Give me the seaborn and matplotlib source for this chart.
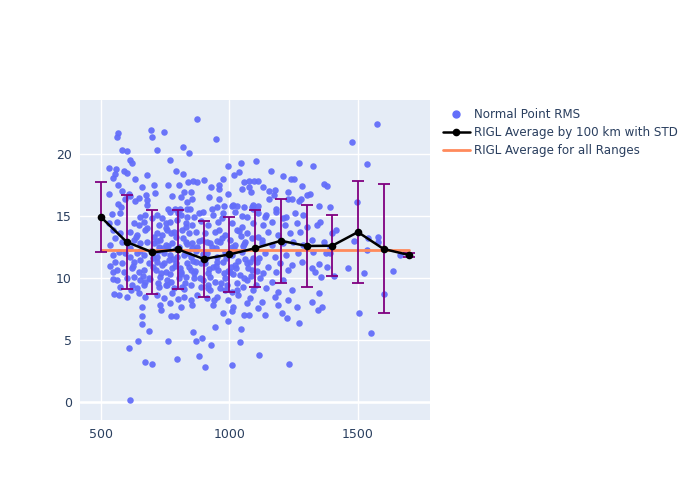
import matplotlib
matplotlib.use("Agg")
import matplotlib.pyplot as plt
import seaborn as sns
import pandas as pd
from matplotlib.lines import Line2D

# ---------------- data ----------------
scatter_x = [
    # sparse / outliers
    613, 610, 643, 658, 660, 687, 670, 700, 759, 797, 771, 792, 859, 870, 881, 732,
    942, 892, 927, 903, 1011, 995, 1045, 1042, 1115, 1233, 1269, 1224, 1204, 1139, 1058, 1075, 1011, 976,
    1344, 1504, 1551,
    1352, 1342, 1414, 1398, 1320, 1368, 1391, 1326, 1375, 1391, 1484, 1540, 1579, 1579, 1534, 1663,
    1349, 1320, 1333, 1378, 1462, 1523, 1635, 1407, 1355, 1348, 1601, 1320, 1359,
    1575, 1479, 1534, 1325, 1368, 1378, 1313, 1497, 1348, 1391,
    873, 947, 995, 1045, 1104, 1161, 1269, 1019, 1037, 902, 975, 1207, 1238, 1252, 928, 959, 958,
    1056, 1077, 1095, 1111, 1047, 1077, 1085, 1131, 1154, 1177, 1226, 1282, 921, 959, 993, 1155, 1172,
    1229, 1244, 1270, 1280, 1301, 950, 980, 1015, 1028, 1058, 1090, 1112, 1086,
    565, 561, 695, 697, 745, 580, 602, 719, 819, 842, 614, 619, 767, 531, 558, 554, 548, 589, 600,
    679, 792, 820, 633, 859, 875, 565, 658, 705, 761, 802, 837, 580, 530, 610, 675, 709, 777, 810,
    824, 851, 649, 678, 678, 633, 593, 613, 565, 577, 855, 833, 807, 788, 833,
    # dense core (left)
    542, 575, 653, 672, 718, 738, 770, 810, 836, 862, 881,
    529, 561, 627, 646, 666, 725, 751, 770, 797, 829, 855,
    548, 575, 614, 640, 672, 718, 738, 757, 784, 816, 842, 868,
    535, 555, 581, 627, 653, 679, 705, 731, 751, 777, 829, 855, 875,
    548, 568, 594, 614, 640, 666, 718, 744, 770, 797, 823, 849,
    555, 581, 627, 653, 686, 718, 738, 764, 790, 836, 868,
    561, 588, 620, 646, 666, 712, 751, 777, 810, 849,
    561, 601, 627, 653, 686, 731, 757, 803, 829, 862,
    575, 620, 640, 666, 725, 751, 784, 816, 849,
    568, 601, 646, 672, 718, 744, 777, 823, 875,
    659, 731, 770, 810, 855,
    # dense core (middle)
    898, 937, 976, 1021, 1067, 1112, 1144, 1183, 1222, 1255, 1287,
    917, 956, 1008, 1047, 1093, 1131, 1164, 1216, 1261, 1300,
    904, 943, 982, 1028, 1067, 1112, 1151, 1190, 1235, 1274,
    924, 963, 1021, 1060, 1125, 1164, 1209, 1248, 1287,
    911, 950, 1008, 1047, 1093, 1138, 1177, 1222, 1268,
    904, 937, 976, 1021, 1067, 1106, 1151, 1196, 1242, 1281,
    917, 956, 1002, 1041, 1086, 1131, 1183, 1229,
    898, 943, 982, 1028, 1067, 1118, 1164, 1209,
    924, 963, 1008, 1054, 1093, 1144, 1190, 1242,
    911, 950, 995, 1034, 1080, 1125, 1177, 1229,
    937, 1015, 1067, 1112, 1190, 1261,
    # extra fill
    612, 637, 662, 693, 708, 742, 767, 792, 818, 843, 871, 893, 921, 947, 972, 993, 1018, 1044, 1071, 1098, 1128,
    625, 650, 680, 702, 727, 752, 780, 805, 830, 858, 880, 908, 932, 958, 985, 1010, 1036, 1062, 1088, 1115,
    618, 672, 722, 772, 798, 827, 852, 888, 915, 940, 968, 990, 1030, 1058, 1102,
    700, 760, 800, 846, 890, 930, 970, 1010, 1050, 1090, 1140, 1180, 1210,
    535, 548, 552, 545,
    704, 733, 761, 786, 812, 838, 866, 897, 926, 953, 981, 1004, 1033, 1057, 1083,
    716, 746, 774, 808, 834, 862, 889, 914, 946, 978, 1003, 1026, 1052, 1079, 1107,
    690, 722, 756, 790, 822, 854, 884, 918, 950, 982, 1012,
]
scatter_y = [
    0.16, 4.35, 4.95, 6.9, 6.3, 5.7, 3.2, 3.1, 4.95, 3.5, 6.9, 6.9, 5.65, 4.95, 3.7, 7.4,
    6.05, 5.2, 4.6, 2.8, 3.0, 6.5, 5.9, 4.85, 3.8, 3.1, 6.4, 6.8, 7.2, 7.05, 7.0, 7.0, 7.3, 7.2,
    7.4, 7.2, 5.6,
    14.5, 14.3, 13.9, 13.6, 13.1, 12.9, 12.4, 12.1, 12.0, 12.0, 13.0, 13.2, 13.3, 12.9, 12.25, 11.85,
    11.1, 10.8, 10.5, 10.85, 10.8, 10.4, 10.6, 10.2, 10.1, 8.8, 8.7, 8.1, 7.7,
    22.4, 21.0, 19.2, 19.0, 17.6, 17.4, 16.75, 16.1, 15.8, 15.75,
    22.8, 21.2, 19.0, 19.3, 19.4, 18.65, 19.25, 18.3, 18.55, 17.9, 18.0, 18.2, 18.0, 18.0, 17.3, 17.5, 17.2,
    17.7, 17.8, 17.85, 17.8, 17.2, 17.35, 16.95, 17.3, 17.0, 17.1, 16.95, 17.45, 16.55, 16.4, 16.8, 16.35, 16.7,
    16.4, 16.4, 16.2, 16.4, 16.7, 15.7, 15.8, 15.9, 15.8, 15.75, 15.9, 15.8, 15.7,
    21.7, 21.35, 21.9, 21.35, 21.8, 20.3, 20.2, 20.3, 20.6, 20.1, 19.5, 19.3, 19.5, 18.9, 18.8, 18.35, 18.1, 18.6, 18.5,
    18.3, 18.6, 18.4, 18.0, 17.85, 17.7, 17.5, 17.3, 17.5, 17.5, 17.5, 17.7, 17.05, 16.8, 16.75, 16.7, 16.85, 16.65, 16.5,
    16.95, 16.95, 16.45, 16.3, 15.9, 16.2, 16.35, 16.65, 15.95, 15.75, 16.35, 16.15, 15.6, 15.6, 15.6,
    15.16, 15.21, 14.94, 15.08, 15.08, 14.81, 15.35, 15.08, 14.94, 14.94, 15.21,
    14.4, 14.54, 14.4, 14.27, 14.54, 14.27, 14.4, 14.54, 14.67, 14.4, 14.27,
    13.87, 13.6, 13.73, 13.46, 13.87, 13.6, 13.46, 13.87, 13.73, 13.87, 13.6, 13.73,
    12.66, 13.19, 12.92, 13.06, 12.79, 12.92, 12.79, 13.06, 12.66, 12.79, 12.92, 12.79, 12.52,
    11.85, 12.12, 11.98, 11.71, 11.98, 11.85, 11.71, 11.98, 11.85, 11.71, 11.85, 11.71,
    11.31, 11.18, 11.31, 11.45, 11.18, 11.31, 11.04, 11.45, 11.18, 11.18, 11.31,
    10.64, 10.5, 10.77, 10.5, 10.64, 10.64, 10.5, 10.77, 10.5, 10.64,
    9.83, 9.97, 10.1, 9.83, 9.97, 10.1, 9.83, 9.97, 10.1, 9.97,
    9.29, 9.43, 9.16, 9.43, 9.29, 9.43, 9.16, 9.29, 9.43,
    8.62, 8.49, 8.76, 8.49, 8.62, 8.35, 8.76, 8.49, 8.62,
    7.68, 7.81, 7.95, 7.68, 7.81,
    15.35, 15.08, 15.21, 15.35, 14.94, 15.21, 15.08, 15.35, 14.94, 15.21, 15.08,
    14.27, 14.54, 14.4, 14.14, 14.4, 14.27, 14.54, 14.27, 14.4, 14.14,
    13.6, 13.73, 13.46, 13.87, 13.6, 13.33, 13.73, 13.46, 13.6, 13.73,
    12.79, 12.92, 12.66, 12.92, 12.79, 12.66, 12.79, 12.92, 12.66,
    11.98, 11.71, 11.85, 12.12, 11.58, 11.98, 11.71, 11.85, 11.98,
    11.18, 10.91, 11.31, 11.04, 11.18, 11.31, 10.91, 11.18, 11.04, 11.31,
    10.37, 10.64, 10.5, 10.24, 10.64, 10.37, 10.5, 10.64,
    9.83, 9.7, 9.97, 9.56, 9.83, 9.97, 9.7, 9.83,
    9.02, 9.16, 8.89, 9.29, 9.02, 9.16, 8.89, 9.02,
    8.35, 8.49, 8.22, 8.62, 8.35, 8.08, 8.49, 8.22,
    7.81, 7.68, 7.95, 7.54, 7.81, 7.68,
    12.4, 13.3, 10.2, 12.2, 13.3, 12.4, 10.3, 12.3, 13.2, 10.9, 12.2, 13.1, 10.7, 12.4, 13.2, 10.6, 12.3, 13.4, 10.8, 12.4, 13.1,
    11.0, 12.2, 14.0, 10.9, 12.5, 14.0, 11.5, 12.5, 14.1, 11.4, 13.0, 11.6, 12.5, 13.9, 11.6, 12.5, 13.8, 11.5, 13.2, 11.6,
    9.0, 9.7, 9.6, 9.7, 8.3, 9.6, 8.2, 9.3, 9.4, 8.2, 9.6, 9.4, 9.0, 10.0, 9.4,
    14.8, 15.6, 15.2, 15.6, 14.6, 15.6, 14.8, 15.8, 15.0, 15.6, 14.9, 15.6, 14.8,
    11.0, 9.9, 8.7, 10.5,
    11.6, 10.4, 12.6, 11.0, 10.3, 12.0, 10.6, 11.9, 10.1, 11.3, 12.1, 10.9, 11.4, 12.7, 10.2,
    13.0, 11.2, 13.6, 10.8, 12.7, 10.4, 11.2, 12.9, 11.0, 10.4, 13.1, 10.8, 12.6, 11.3, 10.6,
    9.9, 12.2, 9.4, 13.3, 9.1, 12.4, 10.0, 9.2, 13.0, 9.0, 10.3,
]

avg_range = [500, 600, 700, 800, 900, 1000, 1100, 1200, 1300, 1400, 1500, 1600, 1700]
avg_rms = [14.9, 12.9, 12.07, 12.3, 11.53, 11.9, 12.4, 13.0, 12.58, 12.6, 13.7, 12.34, 11.85]
avg_std = [2.8, 3.8, 3.4, 3.2, 3.1, 3.05, 3.1, 3.4, 3.3, 2.45, 4.1, 5.2, 0.15]

overall_range = [500, 1700]
overall_rms = [12.26, 12.26]

# ---------------- plot ----------------
sns.set_theme(style="darkgrid")
plt.rcParams['font.family'] = ['DejaVu Sans']

fig = plt.figure(figsize=(7, 5), dpi=100)
ax = fig.add_axes([0.1143, 0.16, 0.4997, 0.64])
ax.set_facecolor('#E5ECF6')
for s in ax.spines.values():
    s.set_visible(False)
ax.grid(True, color='white', linewidth=1.0)
ax.set_axisbelow(True)

scat_df = pd.DataFrame({'range': scatter_x, 'rms': scatter_y})
sns.scatterplot(data=scat_df, x='range', y='rms', ax=ax, color='#636EFA',
                s=22, linewidth=0, alpha=0.95, zorder=2, legend=False)

ax.plot(overall_range, overall_rms, color='#FF8A5C', linewidth=2, zorder=3)

ax.errorbar(avg_range, avg_rms, yerr=avg_std, fmt='none', ecolor='#800080',
            elinewidth=1.3, capsize=4, capthick=1.3, zorder=4)
avg_df = pd.DataFrame({'range': avg_range, 'rms': avg_rms})
sns.lineplot(data=avg_df, x='range', y='rms', ax=ax, color='black', linewidth=1.8,
             marker='o', markersize=5.5, markeredgewidth=0, zorder=5, legend=False)

ax.axhline(0, color='white', linewidth=1.8, zorder=1)

ax.set_xlim(418, 1780)
ax.set_ylim(-1.45, 24.35)
ax.set_xticks([500, 1000, 1500])
ax.set_yticks([0, 5, 10, 15, 20])
ax.set_xlabel('')
ax.set_ylabel('')
ax.tick_params(axis='both', colors='#2a3f5f', labelsize=9, length=0, pad=6)

handles = [
    Line2D([], [], linestyle='none', marker='o', markersize=5, color='#636EFA'),
    Line2D([], [], color='black', linewidth=1.8, marker='o', markersize=4.5),
    Line2D([], [], color='#FF8A5C', linewidth=2),
]
labels = ['Normal Point RMS', 'RIGL Average by 100 km with STD', 'RIGL Average for all Ranges']
leg = fig.legend(handles, labels, loc='upper left', bbox_to_anchor=(0.618, 0.805),
                 frameon=False, fontsize=8.6, handlelength=2.2, labelspacing=0.42,
                 handletextpad=0.4)
for t in leg.get_texts():
    t.set_color('#2a3f5f')

fig.savefig('out.png', dpi=100)
